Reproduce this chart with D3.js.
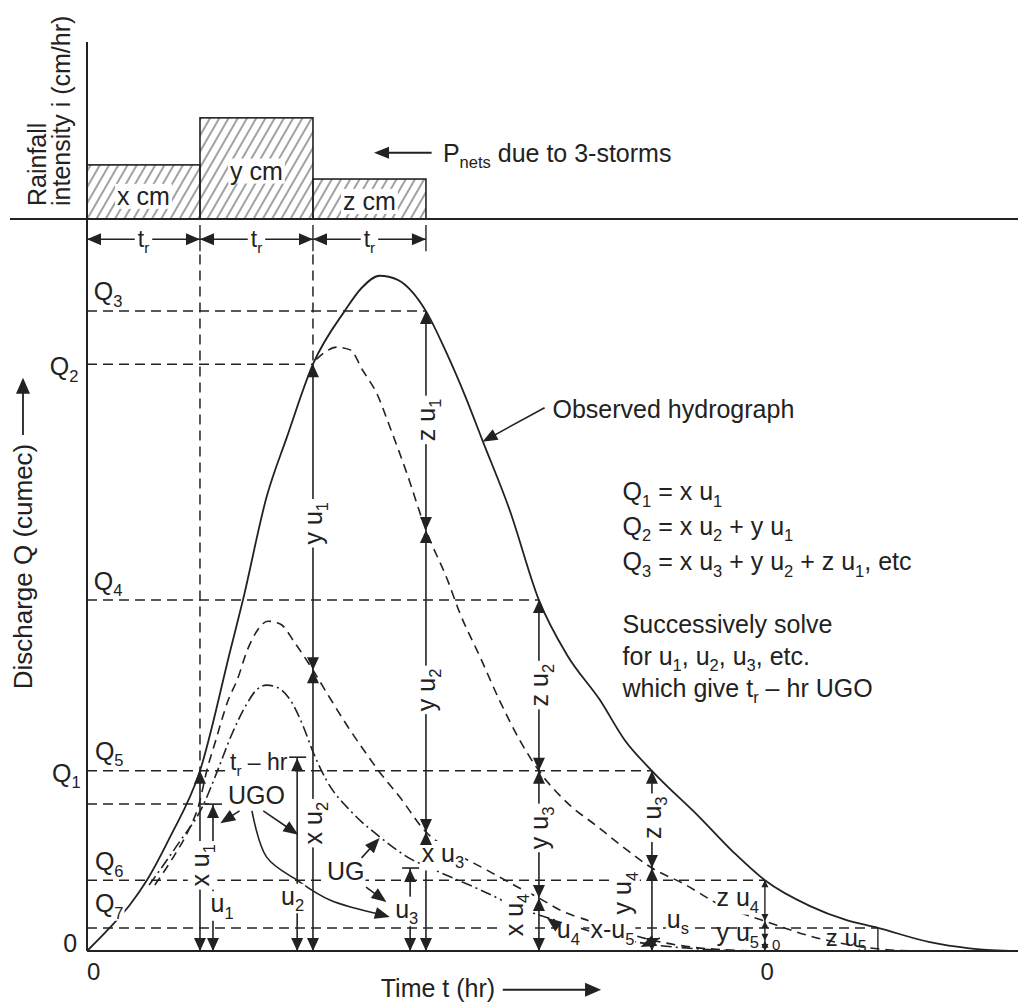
<!DOCTYPE html>
<html>
<head>
<meta charset="utf-8">
<script src="https://cdn.jsdelivr.net/npm/d3@7"></script>
<style>
  body { margin: 0; background: #fff; }
  svg { display: block; font-family: "Liberation Sans", Arial, Helvetica, sans-serif; }
</style>
</head>
<body>
<svg id="chart" width="1018" height="1002"></svg>
<script>
// ---- data (time in units of t_r, discharge in % of the observed peak) ----
const rainStart = [0, 1, 2];
const rainIntensity = [1.07, 2.0, 0.79];
const rainLabels = ["x cm", "y cm", "z cm"];
const rainLabelLevel = [0.28, 0.78, 0.18];

// observed hydrograph (solid)
const observed = [[0,0],[0.2,3.4],[0.38,6.8],[0.53,10.4],[0.73,16.6],[1.0,26.5],[1.27,44.3],[1.38,51.6],
  [1.59,66.8],[1.77,75.6],[2.0,86.3],[2.28,94.1],[2.43,97.5],[2.59,99.3],[2.75,98.7],[2.88,96.9],[3.0,94.1],
  [3.17,88.4],[3.35,81.5],[3.5,75.1],[3.74,64.9],[4.0,51.6],[4.25,43.5],[4.54,36.9],[4.76,31.0],[5.0,26.5],
  [5.42,19.7],[5.73,14.4],[6.0,10.4],[6.4,6.6],[6.71,4.6],[7.0,3.4],[7.46,1.3],[7.81,0.4],[8.17,0]];

// x u + y u (lagged) - dashed
const xyCurve = [[2.03,87.0],[2.11,88.1],[2.21,88.8],[2.33,88.4],[2.44,85.4],[2.57,81.8],[2.68,77.1],[2.83,70.3],
  [3.0,61.9],[3.19,54.6],[3.3,49.7],[3.48,43.2],[3.65,36.9],[3.83,31.0],[4.0,26.5],[4.27,21.5],[4.51,18.4],
  [4.76,15.1],[5.0,12.2],[5.28,9.9],[5.6,6.8],[6.0,4.4],[6.4,2.2],[6.75,0.9],[7.11,0.15],[7.37,0]];

// x u - dashed
const xCurve = [[0.6,9.7],[0.76,13.7],[0.9,17.8],[0.99,21.5],[1.06,26.5],[1.14,31.0],[1.25,36.9],[1.33,39.9],
  [1.42,44.3],[1.51,47.2],[1.6,48.5],[1.71,48.1],[1.84,45.3],[2.0,41.3],[2.15,37.2],[2.3,33.2],[2.46,29.3],
  [2.59,26.3],[2.77,22.6],[3.0,17.5],[3.21,14.9],[3.54,11.9],[3.79,9.6],[4.0,7.8],[4.19,6.0],[4.45,4.4],
  [4.72,2.9],[5.0,1.6],[5.34,0.6],[5.69,0.15],[5.96,0]];

// unit graph ordinates (UGO) - dash-dot
const unitGraph = [[0.55,9.7],[0.8,15.6],[1.03,21.5],[1.15,26.3],[1.28,31.8],[1.42,36.5],[1.5,38.4],[1.59,39.1],
  [1.68,38.8],[1.8,36.9],[1.91,33.2],[2.0,29.3],[2.12,25.1],[2.35,20.3],[2.59,16.8],[2.88,13.4],[3.0,12.5],
  [3.12,11.6],[3.48,9.0],[3.83,6.3],[4.19,4.3],[4.54,2.5],[4.98,1.0],[5.42,0.3],[5.78,0]];

// horizontal dashed discharge levels: [Q, end time]
const qLevels = [[94.1, 3], [86.3, 2], [51.6, 4], [26.5, 5], [21.6, 1.08], [10.4, 6], [3.4, 7]];
// axis labels for the levels: [text, t, Q baseline]
const qLabels = [["Q_3", 0.06, 95.7], ["Q_2", -0.33, 84.7], ["Q_4", 0.06, 53.1], ["Q_5", 0.07, 28.1],
  ["Q_1", -0.31, 24.9], ["Q_6", 0.07, 11.9], ["Q_7", 0.07, 5.7], ["0", -0.21, -0.2]];

// measuring columns: time and break points from top to bottom
const columnT = [1, 2, 3, 4, 5, 6];
const columnStops = [[26.5, 0], [86.3, 41.3, 0], [94.1, 61.9, 17.5, 0], [51.6, 26.5, 7.8, 0], [26.5, 12.2, 0], [10.4, 4.4, 1.5, 0]];
// unit graph ordinates u1, u2, u3 with a bar on top: [t, Q]
const ordinates = [[1.115, 21.6], [1.86, 28.5], [2.86, 12.2]];

// rotated labels: [text, t, Q centre]
const rotLabels = [["x u_1", 1, 12.6], ["y u_1", 2, 62.9], ["x u_2", 2, 18.8], ["z u_1", 3, 78.1], ["y u_2", 3, 38.4],
  ["z u_2", 4, 39.1], ["y u_3", 4, 18.1], ["x u_4", 3.78, 5.3], ["z u_3", 5, 19.6], ["y u_4", 4.74, 8.5]];
// flat labels: [text, t, Q baseline, font size, white patch]
const flatLabels = [["u_1", 1.195, 5.7, 25, 1], ["u_2", 1.82, 6.8, 25, 1], ["u_3", 2.83, 4.9, 25, 1],
  ["x u_3", 3.15, 13.1, 25, 1], ["u_4", 4.26, 1.9, 25, 1], ["x-u_5", 4.65, 1.9, 25, 1], ["u_s", 5.23, 3.4, 25, 1],
  ["z u_4", 5.76, 6.6, 25, 1], ["y u_5", 5.76, 1.4, 25, 0], ["0", 6.1, 0.15, 15, 0], ["z u_5", 6.72, 0.8, 24, 0],
  ["UGO", 1.5, 21.6, 25, 1], ["UG", 2.29, 10.4, 25, 1], ["t_r – hr", 1.52, 26.6, 23, 1]];

// pointer arrows (last point is the tip)
const pointers = [
  [[4.05, 79.9], [3.5, 74.9]],
  [[1.35, 20.6], [1.18, 18.8]],
  [[1.56, 20.6], [1.87, 17.1]],
  [[1.46, 20.6], [1.59, 13.8], [1.86, 10.4], [2.15, 7.5], [2.68, 5.0]],
  [[2.43, 13.7], [2.59, 16.6]],
  [[2.47, 9.4], [2.65, 7.2]],
  [[4.19, 3.4], [4.07, 4.9]],
  [[5.07, 1.9], [4.9, 0.6]]
];

const equations = ["Q_1 = x u_1", "Q_2 = x u_2 + y u_1", "Q_3 = x u_3 + y u_2 + z u_1, etc"];
const eqQ = [66.3, 61.2, 56.0];
const notes = ["Successively solve", "for u_1, u_2, u_3, etc.", "which give t_r – hr UGO"];
const noteQ = [46.8, 42.1, 37.4];

// ---- scales ----
const x = d3.scaleLinear().domain([0, 8.24]).range([87, 1018]);
const y = d3.scaleLinear().domain([0, 100]).range([951, 271]);
const yr = d3.scaleLinear().domain([0, 3.5]).range([219, 42]);

const ink = "#222";
const svg = d3.select("#chart");

const defs = svg.append("defs");
defs.append("pattern")
  .attr("id", "hatch").attr("patternUnits", "userSpaceOnUse")
  .attr("width", 8).attr("height", 10).attr("patternTransform", "rotate(30)")
  .append("line").attr("x1", 1).attr("x2", 1).attr("y1", 0).attr("y2", 10)
  .attr("stroke", "#444").attr("stroke-width", 1);

const UP = -Math.PI / 2, DOWN = Math.PI / 2, LEFT = Math.PI, RIGHT = 0;

const gLines = svg.append("g");
const gText = svg.append("g");
const gMarks = svg.append("g");

function head(g, tx, ty, ang, len = 13, hw = 6) {
  const bx = tx - len * Math.cos(ang), by = ty - len * Math.sin(ang);
  const px = -Math.sin(ang) * hw, py = Math.cos(ang) * hw;
  g.append("path")
    .attr("d", `M${tx},${ty}L${bx + px},${by + py}L${bx - px},${by - py}Z`)
    .attr("fill", ink);
}

function seg(g, x1, y1, x2, y2, w = 1.6, dash = null) {
  const l = g.append("line").attr("x1", x1).attr("y1", y1).attr("x2", x2).attr("y2", y2)
    .attr("stroke", ink).attr("stroke-width", w);
  if (dash) l.attr("stroke-dasharray", dash);
  return l;
}

// "x u_1" -> x u with subscript 1
function rich(t, str, fs) {
  const parts = str.split(/(_\w+)/).filter(s => s.length);
  let down = false;
  parts.forEach(p => {
    if (p[0] === "_") {
      t.append("tspan").attr("font-size", fs * 0.66).attr("dy", fs * 0.26).text(p.slice(1));
      down = true;
    } else {
      const ts = t.append("tspan").text(p);
      if (down) { ts.attr("dy", -fs * 0.26); down = false; }
    }
  });
}

// text, optionally on a white patch that breaks the lines below it
function label(g, str, px, py, o = {}) {
  const fs = o.fs || 25;
  const wrap = g.append("g");
  if (o.rotate) wrap.attr("transform", `translate(${px},${py}) rotate(-90)`);
  else wrap.attr("transform", `translate(${px},${py})`);
  const t = wrap.append("text").attr("font-size", fs).attr("fill", ink)
    .attr("text-anchor", o.anchor || "middle")
    .attr("y", o.rotate ? fs * 0.35 : 0);
  rich(t, str, fs);
  if (o.patch) {
    const b = t.node().getBBox();
    const p = o.patch;
    wrap.insert("rect", "text")
      .attr("x", b.x - p).attr("y", b.y + 2).attr("width", b.width + 2 * p).attr("height", b.height - 3)
      .attr("fill", "#fff");
  }
  return t;
}

// ---- rainfall panel ----
rainStart.forEach((s, i) => {
  gLines.append("rect")
    .attr("x", x(s)).attr("y", yr(rainIntensity[i]))
    .attr("width", x(s + 1) - x(s)).attr("height", yr(0) - yr(rainIntensity[i]))
    .attr("fill", "url(#hatch)").attr("stroke", ink).attr("stroke-width", 1.6);
  label(gText, rainLabels[i], x(s + 0.5), yr(rainLabelLevel[i]), { patch: 2 });
});
seg(gLines, 10, yr(0), 1018, yr(0), 2);

// t_r spans
const trY = yr(-0.4);
rainStart.forEach(s => {
  seg(gLines, x(s), trY, x(s + 1), trY, 1.6);
  head(gMarks, x(s), trY, LEFT, 14, 6);
  head(gMarks, x(s + 1), trY, RIGHT, 14, 6);
  seg(gLines, x(s + 1), yr(-0.12), x(s + 1), yr(-0.64), 1.4);
  label(gText, "t_r", x(s + 0.5), trY + 8, { fs: 23, patch: 3 });
});

// P_nets arrow
seg(gLines, x(3.05), yr(1.31), x(2.6), yr(1.31), 1.8);
head(gMarks, x(2.54), yr(1.31), LEFT, 15, 6);
label(gText, "P_nets due to 3-storms", x(3.15), yr(1.13), { anchor: "start", fs: 25 });

label(gText, "Rainfall", 37, 206, { rotate: true, anchor: "start" });
label(gText, "intensity i (cm/hr)", 61, 206, { rotate: true, anchor: "start" });

// ---- axes ----
seg(gLines, x(0), yr(3.5), x(0), y(0), 2);
seg(gLines, x(0), y(0), x(8.24), y(0), 2);

// dashed levels and vertical guides
qLevels.forEach(([q, tEnd]) => seg(gLines, x(0), y(q), x(tEnd), y(q), 1.5, "10,6"));
seg(gLines, x(1), yr(-0.7), x(1), y(26.5), 1.5, "10,6");
seg(gLines, x(2), yr(-0.7), x(2), y(86.3), 1.5, "10,6");

// ---- hydrograph curves ----
const curve = d3.line().x(d => x(d[0])).y(d => y(d[1])).curve(d3.curveMonotoneX);
gLines.append("path").datum(unitGraph).attr("d", curve).attr("fill", "none")
  .attr("stroke", ink).attr("stroke-width", 1.6).attr("stroke-dasharray", "11,4,2,4");
gLines.append("path").datum(xCurve).attr("d", curve).attr("fill", "none")
  .attr("stroke", ink).attr("stroke-width", 1.6).attr("stroke-dasharray", "9,6");
gLines.append("path").datum(xyCurve).attr("d", curve).attr("fill", "none")
  .attr("stroke", ink).attr("stroke-width", 1.6).attr("stroke-dasharray", "9,6");
gLines.append("path").datum(observed).attr("d", curve).attr("fill", "none")
  .attr("stroke", ink).attr("stroke-width", 1.8);

// ---- measuring columns ----
columnT.forEach((t, i) => {
  const s = columnStops[i];
  const small = t === 6;
  const len = small ? 7 : 13, hw = small ? 3.5 : 6;
  const cx = x(t);
  seg(gLines, cx, y(s[0]), cx, y(0), small ? 1.4 : 1.6);
  head(gMarks, cx, y(s[0]), UP, len, hw);
  s.slice(1, -1).forEach(q => {
    head(gMarks, cx, y(q), DOWN, len, hw);
    head(gMarks, cx, y(q), UP, len, hw);
  });
  head(gMarks, cx, y(0), DOWN, len, hw);
});
// last little column at 7 t_r
seg(gMarks, x(7), y(3.4), x(7), y(0), 1.4);

ordinates.forEach(([t, q]) => {
  const ox = x(t);
  seg(gLines, ox, y(q), ox, y(0), 1.6);
  seg(gLines, ox - 8, y(q), ox + 9, y(q), 1.6);
  head(gMarks, ox, y(q) + 1, UP, 13, 6);
  head(gMarks, ox, y(0), DOWN, 13, 6);
});

// pointer arrows
const ptrLine = d3.line().x(d => x(d[0])).y(d => y(d[1])).curve(d3.curveCatmullRom);
pointers.forEach(p => {
  const a = p[p.length - 2], b = p[p.length - 1];
  const ang = Math.atan2(y(b[1]) - y(a[1]), x(b[0]) - x(a[0]));
  const trimmed = p.slice();
  trimmed[trimmed.length - 1] = [x.invert(x(b[0]) - 8 * Math.cos(ang)), y.invert(y(b[1]) - 8 * Math.sin(ang))];
  gLines.append("path").datum(trimmed).attr("d", ptrLine).attr("fill", "none")
    .attr("stroke", ink).attr("stroke-width", 1.6);
  head(gMarks, x(b[0]), y(b[1]), ang, 15, 6);
});

// ---- text ----
qLabels.forEach(([s, t, q]) => label(gText, s, x(t), y(q), { anchor: "start", patch: 1 }));
rotLabels.forEach(([s, t, q]) => label(gText, s, x(t), y(q), { rotate: true, patch: 3 }));
flatLabels.forEach(([s, t, q, fs, pt]) => label(gText, s, x(t), y(q), { fs: fs, patch: pt }));

label(gText, "Observed hydrograph", x(4.12), y(78.4), { anchor: "start" });
equations.forEach((e, i) => label(gText, e, x(4.74), y(eqQ[i]), { anchor: "start" }));
notes.forEach((e, i) => label(gText, e, x(4.74), y(noteQ[i]), { anchor: "start" }));

// x axis ticks and title
label(gText, "0", x(0.06), y(-4.3), { fs: 24 });
label(gText, "0", x(6.02), y(-4.3), { fs: 24 });
label(gText, "Time t (hr)", x(2.6), y(-6.8), { anchor: "start" });
seg(gLines, x(3.68), y(-5.7), x(4.45), y(-5.7), 1.8);
head(gMarks, x(4.55), y(-5.7), RIGHT, 16, 7);

// y axis title
label(gText, "Discharge Q (cumec)", 23, y(74.6), { rotate: true, anchor: "end", fs: 26 });
seg(gLines, 23, y(75.9), 23, y(82.5), 1.8);
head(gMarks, 23, y(84.3), UP, 16, 7);
</script>
</body>
</html>
